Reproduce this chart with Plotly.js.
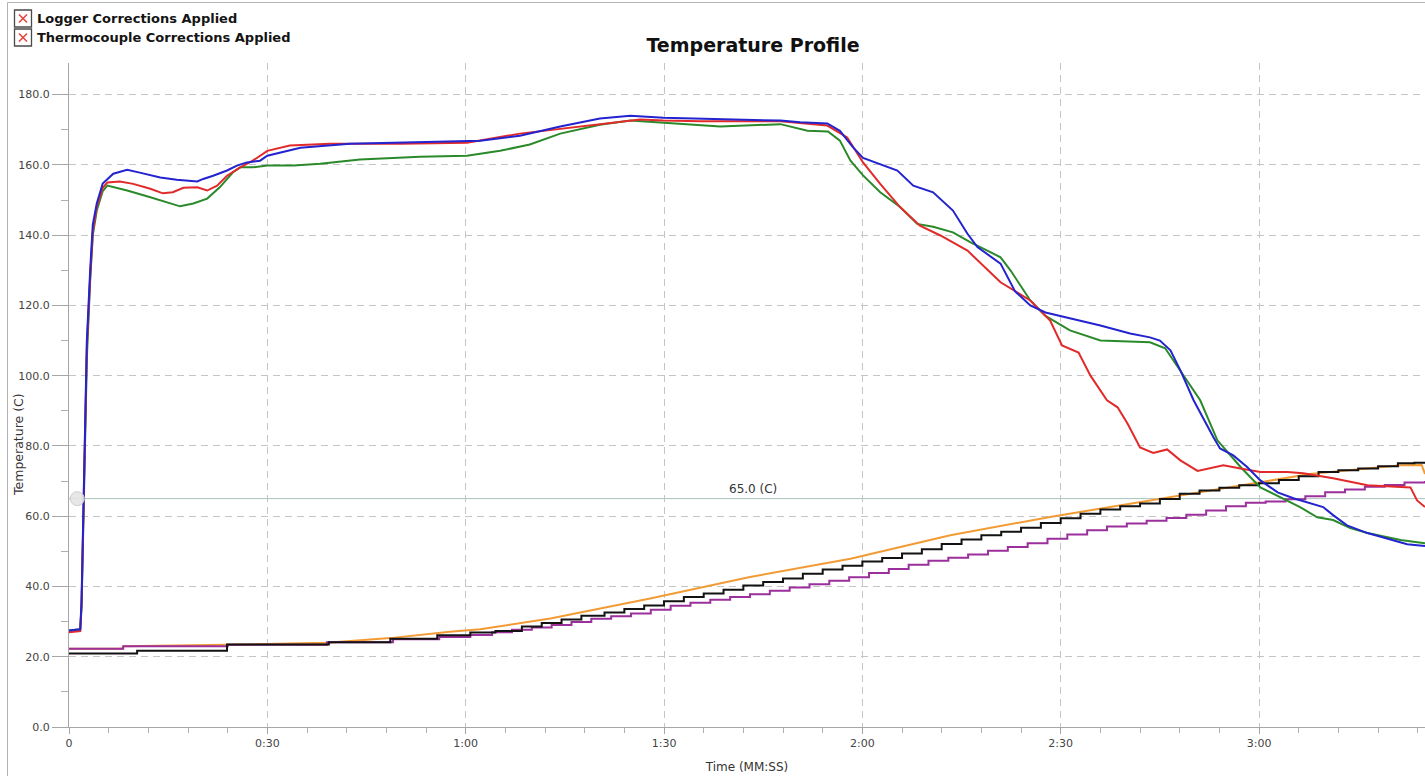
<!DOCTYPE html>
<html>
<head>
<meta charset="utf-8">
<script src="https://cdn.plot.ly/plotly-3.0.1.min.js"></script>
<style>
  html, body { margin: 0; padding: 0; background: #ffffff; }
  #chart { width: 1425px; height: 776px; }
</style>
</head>
<body>
<div id="chart"></div>
<script>
// ---------- DATA (seconds, degrees C) ----------
const blueTime = [0,1.7,1.9,2.3,2.7,3.2,3.6,4.2,5.1,6.7,8.8,10.7,13.8,16.3,19.4,20.3,21.8,23.9,25.4,26.9,28.9,30,35,42.5,53.1,62.2,68.2,74.3,80.3,84.9,89.9,95.5,107.6,110.6,114.7,116.6,118.6,120.1,122.7,125.3,127.7,130.7,133.7,135.9,137.4,140.9,143.1,145.4,147.7,151.4,156,160.5,163.5,165,166.6,168.1,170.1,173.1,174.1,176.1,178.2,180.2,182.8,185.2,187.8,189.7,191.2,193.3,196.4,199.4,202.4,205.1];
const blueTemp = [27.5,27.8,36,70,110,130,143,149,154.7,157.5,158.6,157.8,156.4,155.8,155.3,156,156.9,158.4,159.8,160.7,161.2,162.6,164.9,166,166.6,166.9,168.3,170.9,173.2,174,173.4,173.1,172.6,172.1,171.8,169.7,165,162,160.3,158.4,154.1,152.2,147,140.4,136.6,131.9,124,120,118,116.3,114.3,112,110.9,110,107.2,101.5,93,82.5,79.3,77.3,74,70.2,66.8,65.1,63.6,62.6,60.3,57.4,55.2,53.7,52,51.5];

const redTime = [0,1.7,1.9,2.3,2.7,3.2,3.6,4.2,5.1,5.8,7.7,9.7,12.3,14.2,15.7,17.3,19.4,20.9,22.4,23.9,25.9,27.8,30,33.4,39.5,50.1,60.2,68.2,74.3,80.3,86.4,89.9,95.5,107.6,114.7,117.7,120.1,122.7,125.7,128.7,131.8,135.9,140.9,145.4,148.4,150.2,152.7,154.5,157,158.6,160.1,162,164,166.1,168.1,170.7,172.6,174.6,177.2,180.2,184.3,186.7,191.2,196.4,202.9,203.9,205.1];
const redTemp = [27,27.3,35,68,108,128,141,148,153.5,155,155.3,154.6,153.2,151.9,152.2,153.5,153.6,152.7,154.1,156.9,159.3,161.2,164,165.5,166,166,166.3,168.9,170.3,171.7,172.9,172.6,172.4,172.4,171.2,167.8,160.7,154.6,148,142.7,139.9,135.6,126.6,121.4,115.7,108.6,106.6,100,93,91,86.4,79.6,78,79,75.9,72.9,73.6,74.5,73.6,72.6,72.6,72.2,70.8,68.8,68.2,64.5,62.6];

const greenTime = [0,1.7,1.9,2.3,2.7,3.2,3.6,4.2,5.1,5.8,8.8,12.3,14.8,16.8,18.8,20.9,22.8,24.8,25.9,27.8,30,34,38,44,53.1,60.2,65.2,69.7,74.3,80.3,84.9,89.9,95.5,98.5,107.6,111.7,114.8,116.6,118.2,120.1,122.7,125.7,128.3,130.7,133.7,136.3,138.9,140.9,142.4,145.4,147.7,151.4,156,163.5,165.8,168.1,171.1,173.7,177.2,180.2,183.2,186.2,188.8,191.2,193.8,196.4,201.4,205.1];
const greenTemp = [27.5,27.8,34,66,105,127,140,147,152.5,154.1,152.7,150.8,149.4,148.2,149,150.4,153.6,157.9,159.3,159.3,159.8,159.8,160.3,161.5,162.3,162.6,164,165.8,168.9,171.4,172.6,172,171.4,170.9,171.6,169.7,169.5,166.9,161.2,157,152.2,148,143.2,142.4,140.8,138,135.6,133.7,130,121.4,117,112.9,110,109.5,107.8,101.5,93,81.6,74,68.2,65.4,62.6,59.7,58.9,56.6,55.2,53.2,52.3];

const orangeTime = [0,8,8.3,20,26.3,39,48.6,57.6,62.2,72.8,87.9,103,116.6,118.2,133.3,148.4,163.5,178.7,187.7,201.4,204.6,205.1];
const orangeTemp = [22.3,22.3,23,23.2,23.5,24,25.3,27.1,27.8,30.9,36.6,42.7,47.5,47.9,54.6,59.8,64.5,69.3,72,74.5,74.6,72];

const blackTime = [0,10.3,23.9,39.3,48.6,55.7,60.7,64.5,68.5,71.5,74.5,77.5,81,84,87,90,93,96,99,102,105,108,111,114,117,120,123,126,129,132,135,138,141,144,147,150,153,156,159,162,165,168,171,174,177,180,183,186,189,192,195,198,201,203.5,205.1];
const blackTemp = [20.9,21.7,23.5,24.1,25.1,26.1,26.9,27.3,28.6,29.6,30.6,31.7,32.6,33.6,34.6,35.8,37,38,39.1,40.3,41.3,42.3,43.6,44.8,45.9,47.1,48.1,49.4,50.6,52.1,53.4,54.6,55.6,56.7,58.1,59.4,60.7,61.9,62.8,63.6,64.9,66.4,67.3,68.1,68.8,69.4,70.3,71.4,72.6,73.1,73.6,74.2,75.1,75.2,75.2];

const purpleTime = [0,8.2,24,39,49,56,60.7,64,67,70,73,76,79,82,85,88,91,94,97,100,103,106,109,112,115,118,121,124,127,130,133,136,139,142,145,148,151,154,157,160,163,166,169,172,175,178,181,184,187,190,193,196,199,202,205.1];
const purpleTemp = [22.3,23,23.4,24.1,25,25.6,26.2,27,27.7,28.3,29,29.9,30.8,31.5,32.3,33.4,34.5,35.4,36.2,37,37.8,38.8,39.7,40.6,41.6,42.6,43.8,45,46.2,47.3,48.2,49.1,50.2,51.2,52.3,53.6,54.8,56,57.1,57.9,58.7,59.5,60.4,61.6,62.8,63.8,64.2,64.8,65.7,66.8,67.6,68.4,68.9,69.6,70];

const xTickVals = [0,30,60,90,120,150,180];
const xTickText = ["0","0:30","1:00","1:30","2:00","2:30","3:00"];
const thresholdTemp = 65.0;
const thresholdLabel = "65.0 (C)";
const checkLabels = ["Logger Corrections Applied", "Thermocouple Corrections Applied"];
const chartTitle = "Temperature Profile";
const xTitle = "Time (MM:SS)";
const yTitle = "Temperature (C)";

// ---------- LAYOUT helpers (pixel -> paper) ----------
const W = 1425, H = 776;
const M = {l: 69, r: 0, t: 63, b: 49};
const PW = W - M.l - M.r, PH = H - M.t - M.b;
const px = v => (v - M.l) / PW;
const py = v => (H - M.b - v) / PH;
const FONT = "DejaVu Sans, Verdana, sans-serif";

function line(x, y, color) {
  return {x: x, y: y, type: 'scatter', mode: 'lines',
          line: {color: color, width: 2}, hoverinfo: 'skip', showlegend: false};
}
function stepLine(x, y, color) {
  const t = line(x, y, color);
  t.line.shape = 'hv';
  return t;
}

const traces = [
  line(orangeTime, orangeTemp, '#f29b35'),
  stepLine(purpleTime, purpleTemp, '#9b2f9b'),
  stepLine(blackTime, blackTemp, '#121212'),
  line(greenTime, greenTemp, '#2a8a2a'),
  line(redTime, redTemp, '#e22a2a'),
  line(blueTime, blueTemp, '#2323cf')
];

const shapes = [
  {type: 'line', xref: 'paper', yref: 'paper', x0: px(7.5), x1: px(1430), y0: py(2.5), y1: py(2.5),
   line: {color: '#b4b4b4', width: 1}},
  {type: 'line', xref: 'paper', yref: 'paper', x0: px(7.5), x1: px(7.5), y0: py(2.5), y1: py(780),
   line: {color: '#b4b4b4', width: 1}},
  {type: 'line', xref: 'paper', yref: 'y', x0: 0, x1: 1, y0: thresholdTemp, y1: thresholdTemp,
   line: {color: '#a9c3bc', width: 1}, layer: 'below'},
  {type: 'circle', xref: 'x', yref: 'y', xsizemode: 'pixel', ysizemode: 'pixel',
   xanchor: 1.25, yanchor: thresholdTemp, x0: -7, x1: 7, y0: -7, y1: 7,
   fillcolor: 'rgba(228,228,228,0.9)', line: {color: '#cfcfcf', width: 1}}
];
const annotations = [];
checkLabels.forEach((lab, i) => {
  const top = 10 + i * 19;
  shapes.push({type: 'rect', xref: 'paper', yref: 'paper',
    x0: px(14.5), x1: px(31.5), y0: py(top), y1: py(top + 17),
    fillcolor: '#ffffff', line: {color: '#4a4a4a', width: 1.3}});
  shapes.push({type: 'line', xref: 'paper', yref: 'paper',
    x0: px(19), x1: px(27), y0: py(top + 4.5), y1: py(top + 12.5), line: {color: '#e4463e', width: 1.6}});
  shapes.push({type: 'line', xref: 'paper', yref: 'paper',
    x0: px(19), x1: px(27), y0: py(top + 12.5), y1: py(top + 4.5), line: {color: '#e4463e', width: 1.6}});
  annotations.push({xref: 'paper', yref: 'paper', x: px(34.5), y: py(top + 8.5),
    xanchor: 'left', yanchor: 'middle', showarrow: false, text: '<b>' + lab + '</b>',
    font: {family: FONT, size: 13, color: '#141414'}});
});
annotations.push({xref: 'paper', yref: 'y', x: px(753), y: thresholdTemp, yshift: 1,
  xanchor: 'center', yanchor: 'bottom', showarrow: false, text: thresholdLabel,
  font: {family: FONT, size: 12, color: '#333333'}});
annotations.push({xref: 'paper', yref: 'paper', x: px(18), y: py(444), textangle: -90,
  xanchor: 'center', yanchor: 'middle', showarrow: false, text: yTitle,
  font: {family: FONT, size: 12.5, color: '#333333'}});

const axisCommon = {
  showgrid: true, gridcolor: '#c4c4c4', gridwidth: 1, griddash: '7px,5px',
  showline: true, linecolor: '#a6a6a6', linewidth: 1,
  ticks: 'outside', tickcolor: '#a6a6a6', tickwidth: 1,
  zeroline: false, fixedrange: true,
  tickfont: {family: FONT, size: 11, color: '#444444'}
};

const layout = {
  width: W, height: H, margin: M,
  paper_bgcolor: '#ffffff', plot_bgcolor: '#ffffff',
  showlegend: false,
  title: {text: '<b>' + chartTitle + '</b>', x: 753 / W, xanchor: 'center',
          y: 1 - 45 / H, yanchor: 'middle', font: {family: FONT, size: 19, color: '#111111'}},
  xaxis: Object.assign({}, axisCommon, {
    range: [0, 205.1], tickmode: 'array', tickvals: xTickVals, ticktext: xTickText, ticklen: 6,
    minor: {tickmode: 'linear', tick0: 0, dtick: 6, ticks: 'outside', ticklen: 5,
            tickcolor: '#b0b0b0', showgrid: false},
    title: {text: xTitle, standoff: 13, font: {family: FONT, size: 12, color: '#333333'}}
  }),
  yaxis: Object.assign({}, axisCommon, {
    range: [0, 189], tick0: 0, dtick: 20, tickformat: '.1f', ticklen: 16,
    minor: {tick0: 0, dtick: 10, ticks: 'outside', ticklen: 7, tickcolor: '#b0b0b0', showgrid: false},
    title: {text: ''}
  }),
  shapes: shapes,
  annotations: annotations
};

Plotly.newPlot('chart', traces, layout, {displayModeBar: false, staticPlot: true});
</script>
</body>
</html>
